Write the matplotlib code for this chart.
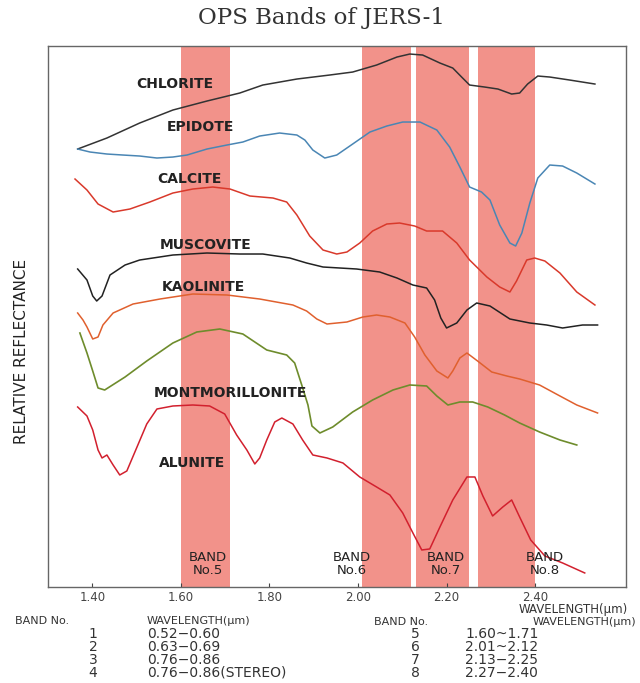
import numpy as np
import matplotlib.pyplot as plt

# OPS short-wave bands (um)
swir_lo = [1.60, 2.01, 2.13, 2.27]
swir_hi = [1.71, 2.12, 2.25, 2.40]
swir_labels = ['BAND\nNo.5', 'BAND\nNo.6', 'BAND\nNo.7', 'BAND\nNo.8']
swir_label_x = [1.661, 1.986, 2.198, 2.422]

# table under the chart
left_no = ['1', '2', '3', '4']
left_wl = ['0.52\u22120.60', '0.63\u22120.69', '0.76\u22120.86', '0.76\u22120.86(STEREO)']
right_no = ['5', '6', '7', '8']
right_wl = ['1.60~1.71', '2.01~2.12', '2.13\u22122.25', '2.27\u22122.40']

tick_pos = [1.40, 1.60, 1.80, 2.00, 2.20, 2.40]
tick_txt = ['1.40', '1.60', '1.80', '2.00', '2.20', '2.40']

# spectra (relative reflectance, offset curves)
chlorite_wl = [1.367, 1.433, 1.507, 1.582, 1.659, 1.733, 1.785, 1.862, 1.936, 1.988, 2.042, 2.088,
               2.117, 2.146, 2.185, 2.214, 2.234, 2.252, 2.286, 2.316, 2.347, 2.365, 2.383, 2.406,
               2.433, 2.478, 2.535]
chlorite_r = [87.6, 89.8, 92.8, 95.4, 97.2, 98.8, 100.4, 101.6, 102.4, 103.0, 104.4, 106.0,
              106.6, 106.4, 104.8, 103.8, 102.0, 100.4, 100.0, 99.6, 98.6, 98.8, 100.6, 102.2,
              102.0, 101.4, 100.6]

epidote_wl = [1.367, 1.395, 1.433, 1.469, 1.507, 1.546, 1.582, 1.614, 1.659, 1.704, 1.740, 1.778,
              1.823, 1.862, 1.880, 1.898, 1.925, 1.952, 1.988, 2.027, 2.065, 2.101, 2.140, 2.178,
              2.207, 2.230, 2.252, 2.279, 2.298, 2.320, 2.343, 2.356, 2.370, 2.388, 2.406, 2.433,
              2.462, 2.494, 2.535]
epidote_r = [87.6, 87.0, 86.6, 86.4, 86.2, 85.8, 86.0, 86.4, 87.6, 88.4, 89.0, 90.2,
             90.8, 90.4, 89.4, 87.4, 85.8, 86.4, 88.6, 91.0, 92.2, 93.0, 93.0, 91.4,
             88.0, 84.0, 80.0, 79.0, 77.4, 72.4, 68.8, 68.2, 70.8, 76.8, 81.8, 84.4,
             84.2, 82.8, 80.6]

calcite_wl = [1.361, 1.388, 1.413, 1.447, 1.485, 1.530, 1.582, 1.627, 1.672, 1.711, 1.756, 1.808,
              1.839, 1.862, 1.891, 1.921, 1.952, 1.975, 2.004, 2.033, 2.065, 2.094, 2.128, 2.155,
              2.191, 2.223, 2.252, 2.291, 2.320, 2.343, 2.358, 2.381, 2.399, 2.422, 2.456, 2.494,
              2.535]
calcite_r = [81.6, 79.4, 76.6, 75.0, 75.6, 77.0, 78.8, 79.6, 80.0, 79.6, 78.2, 77.8,
             77.0, 74.4, 70.2, 67.4, 66.6, 67.0, 68.8, 71.2, 72.6, 72.8, 72.2, 71.2,
             71.2, 68.8, 65.4, 62.0, 60.0, 59.0, 61.2, 65.4, 65.8, 65.2, 62.8, 59.0,
             56.4]

muscovite_wl = [1.367, 1.388, 1.401, 1.410, 1.422, 1.440, 1.474, 1.507, 1.582, 1.659, 1.733, 1.785,
                1.846, 1.884, 1.921, 1.997, 2.049, 2.088, 2.124, 2.155, 2.173, 2.187, 2.200, 2.223,
                2.246, 2.268, 2.298, 2.343, 2.388, 2.426, 2.462, 2.507, 2.541]
muscovite_r = [63.6, 61.4, 58.2, 57.2, 58.2, 62.4, 64.4, 65.4, 66.4, 66.8, 66.6, 66.6,
               65.8, 64.8, 64.0, 63.6, 63.0, 61.8, 60.4, 59.8, 57.4, 53.8, 51.8, 52.8,
               55.4, 56.8, 56.2, 53.6, 52.8, 52.4, 51.8, 52.4, 52.4]

kaolinite_wl = [1.367, 1.379, 1.388, 1.401, 1.413, 1.424, 1.447, 1.492, 1.553, 1.627, 1.704, 1.778,
                1.853, 1.884, 1.907, 1.930, 1.975, 2.011, 2.042, 2.072, 2.106, 2.128, 2.151, 2.178,
                2.203, 2.214, 2.230, 2.246, 2.270, 2.302, 2.336, 2.365, 2.410, 2.456, 2.494, 2.541]
kaolinite_r = [54.8, 53.4, 52.0, 49.6, 50.0, 52.4, 54.8, 56.6, 57.6, 58.6, 58.4, 57.6,
               56.4, 55.2, 53.6, 52.6, 53.0, 54.0, 54.4, 54.0, 52.8, 50.0, 46.4, 43.2,
               41.8, 43.2, 45.8, 46.8, 45.2, 43.0, 42.2, 41.6, 40.4, 38.2, 36.4, 34.8]

montmor_wl = [1.372, 1.388, 1.401, 1.413, 1.428, 1.474, 1.523, 1.582, 1.636, 1.688, 1.740, 1.794,
              1.839, 1.857, 1.873, 1.887, 1.896, 1.914, 1.943, 1.988, 2.033, 2.079, 2.117, 2.155,
              2.178, 2.203, 2.230, 2.259, 2.293, 2.331, 2.365, 2.410, 2.456, 2.494]
montmor_r = [50.8, 46.8, 43.2, 39.8, 39.4, 42.0, 45.2, 48.8, 51.0, 51.6, 50.6, 47.4,
             46.4, 44.8, 40.4, 36.4, 32.2, 30.8, 32.0, 35.0, 37.4, 39.4, 40.4, 40.2,
             38.2, 36.4, 37.0, 37.0, 36.0, 34.4, 32.8, 31.0, 29.4, 28.4]

alunite_wl = [1.367, 1.388, 1.401, 1.413, 1.422, 1.433, 1.447, 1.462, 1.478, 1.501, 1.523, 1.546,
              1.582, 1.627, 1.665, 1.699, 1.726, 1.749, 1.767, 1.778, 1.794, 1.812, 1.828, 1.853,
              1.875, 1.898, 1.930, 1.966, 2.004, 2.042, 2.072, 2.101, 2.124, 2.144, 2.162, 2.185,
              2.214, 2.246, 2.264, 2.282, 2.304, 2.327, 2.347, 2.365, 2.390, 2.422, 2.462, 2.512]
alunite_r = [36.0, 34.2, 31.4, 27.4, 25.8, 26.4, 24.4, 22.4, 23.2, 28.0, 32.6, 35.6,
             36.2, 36.4, 36.2, 34.6, 30.4, 27.4, 24.6, 25.8, 29.4, 33.0, 33.8, 32.6,
             29.4, 26.4, 25.8, 24.8, 22.0, 20.0, 18.4, 14.8, 10.8, 7.4, 7.6, 12.0,
             17.4, 22.0, 22.0, 18.2, 14.2, 16.0, 17.4, 14.0, 9.4, 6.2, 4.8, 2.8]

names = ['CHLORITE', 'EPIDOTE', 'CALCITE', 'MUSCOVITE', 'KAOLINITE', 'MONTMORILLONITE', 'ALUNITE']
name_x = [1.586, 1.645, 1.620, 1.656, 1.650, 1.713, 1.625]
name_y = [100.6, 92.0, 81.6, 68.4, 60.0, 38.8, 24.8]

#=======================================================
# grafica
#=======================================================
fig = plt.figure(figsize=(6.4, 6.83), dpi=100)
ax = fig.add_axes([0.075, 0.1406, 0.903, 0.792])

for lo, hi in zip(swir_lo, swir_hi):
    ax.axvspan(lo, hi, color='#F2928A', lw=0, zorder=1)

ax.plot(chlorite_wl, chlorite_r, color='#333333', lw=1.1, zorder=3)
ax.plot(epidote_wl, epidote_r, color='#4A86B4', lw=1.1, zorder=3)
ax.plot(calcite_wl, calcite_r, color='#D9392B', lw=1.1, zorder=3)
ax.plot(muscovite_wl, muscovite_r, color='#222222', lw=1.1, zorder=3)
ax.plot(kaolinite_wl, kaolinite_r, color='#E0602E', lw=1.1, zorder=3)
ax.plot(montmor_wl, montmor_r, color='#6E8C2C', lw=1.2, zorder=3)
ax.plot(alunite_wl, alunite_r, color='#D2202E', lw=1.1, zorder=3)

for n, x, y in zip(names, name_x, name_y):
    ax.text(x, y, n, ha='center', va='center', fontsize=10, fontweight='bold',
            color='#222222', zorder=4)

for t, x in zip(swir_labels, swir_label_x):
    ax.text(x, 4.6, t, ha='center', va='center', fontsize=9.5, color='#222222',
            linespacing=1.0, zorder=4)

ax.set_xlim(1.30, 2.605)
ax.set_ylim(0, 108.2)
ax.set_yticks([])
ax.set_xticks(tick_pos)
ax.set_xticklabels(tick_txt, fontsize=8.5, color='#444444')
ax.tick_params(axis='x', direction='in', length=3, pad=3, color='#444444')
for s in ax.spines.values():
    s.set_color('#666666')
    s.set_linewidth(1.0)

fig.text(0.503, 0.973, 'OPS Bands of JERS-1', ha='center', va='center',
         family='DejaVu Serif', fontsize=16.5, color='#333333')
fig.text(0.034, 0.486, 'RELATIVE REFLECTANCE', rotation=90, ha='center', va='center',
         family=['Liberation Sans Narrow', 'DejaVu Sans'], fontsize=11, color='#222222')
fig.text(0.981, 1 - 610 / 683, 'WAVELENGTH(\u03bcm)', ha='right', va='center',
         fontsize=8.5, color='#333333')

# tabla de bandas
fig.text(42 / 640, 1 - 621 / 683, 'BAND No.', ha='center', va='center', fontsize=8, color='#333333')
fig.text(147 / 640, 1 - 621 / 683, 'WAVELENGTH(\u03bcm)', ha='left', va='center', fontsize=8, color='#333333')
fig.text(401 / 640, 1 - 622 / 683, 'BAND No.', ha='center', va='center', fontsize=8, color='#333333')
fig.text(636 / 640, 1 - 622 / 683, 'WAVELENGTH(\u03bcm)', ha='right', va='center', fontsize=8, color='#333333')
row_y = [634, 647, 660, 673]
for i in range(4):
    fy = 1 - row_y[i] / 683
    fig.text(93 / 640, fy, left_no[i], ha='center', va='center', fontsize=10, color='#333333')
    fig.text(147 / 640, fy, left_wl[i], ha='left', va='center', fontsize=10, color='#333333')
    fig.text(415 / 640, fy, right_no[i], ha='center', va='center', fontsize=10, color='#333333')
    fig.text(465 / 640, fy, right_wl[i], ha='left', va='center', fontsize=10, color='#333333')

plt.savefig('out.png', dpi=100)
